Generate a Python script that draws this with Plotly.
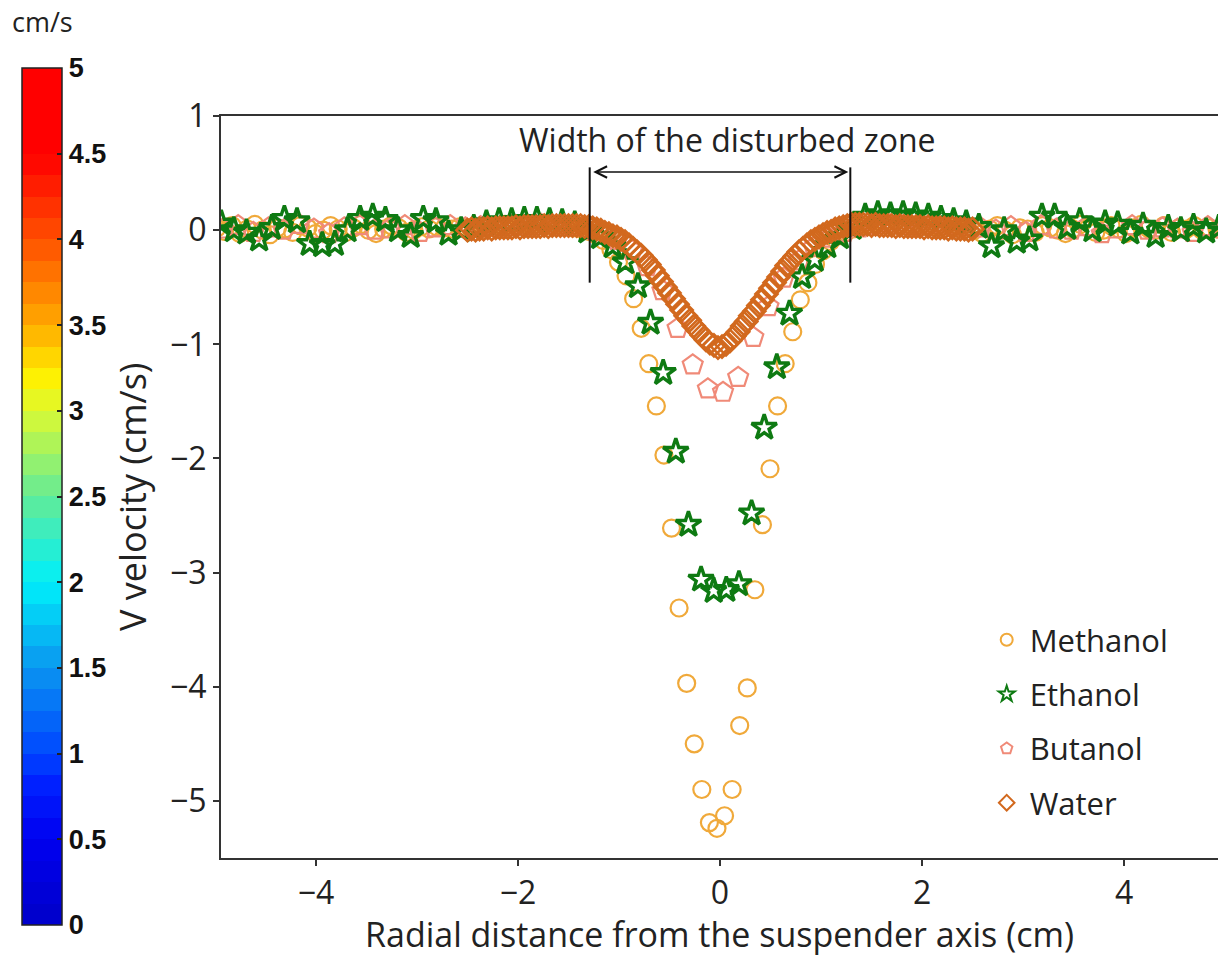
import numpy as np
import plotly.graph_objects as go

# ---------------- data: V velocity profiles (cm/s) vs radial distance (cm) ----------------
# Methanol: sampled every 0.075 cm starting at -4.98 cm
METHANOL_X0, METHANOL_DX = -4.98, 0.075
methanol_v = [
    0.02, -0.01, 0.04, -0.03, 0.01, 0.05, 0.00, -0.04, 0.02, 0.01,
    -0.02, 0.04, 0.02, -0.03, 0.00, 0.04, 0.01, -0.02, 0.02, 0.05,
    0.00, -0.03, 0.01, 0.04, 0.02, -0.02, 0.00, 0.03, 0.01, 0.03,
    0.02, 0.01, 0.03, 0.02, 0.03, 0.04, 0.03, 0.04, 0.05, 0.04,
    0.05, 0.04, 0.05, 0.05, 0.04, 0.04, 0.03, 0.02, 0.01,
    -0.01, -0.04, -0.09, -0.17, -0.28, -0.40, -0.60, -0.86, -1.17, -1.54,
    -1.97, -2.61, -3.31, -3.97, -4.50, -4.90, -5.19, -5.24, -5.13, -4.90,
    -4.34, -4.01, -3.15, -2.58, -2.09, -1.54, -1.17, -0.89, -0.61, -0.46,
    -0.30, -0.18, -0.10, -0.05, -0.02,
    0.01, 0.03, 0.04, 0.05, 0.06, 0.05, 0.06, 0.05, 0.04, 0.05,
    0.04, 0.03, 0.04, 0.02, 0.03, 0.01, 0.00, -0.03, 0.01, 0.04,
    0.00, -0.04, 0.02, 0.01, -0.02, 0.04, 0.02, 0.00, -0.03, 0.01,
    0.05, 0.02, -0.02, 0.00, 0.04, 0.01, -0.03, 0.02, 0.05, 0.01,
    0.00, 0.04, -0.02, 0.02, 0.01, 0.04, 0.00, 0.02, 0.01,
]

# Ethanol: sampled every 0.125 cm starting at -4.9375 cm
ETHANOL_X0, ETHANOL_DX = -4.9375, 0.125
ethanol_v = [
    0.06, 0.00, -0.02, -0.08, 0.02, 0.10, 0.08, -0.12, -0.13, -0.12,
    0.00, 0.10, 0.12, 0.09, 0.00, -0.05, 0.10, 0.08, -0.03, 0.00,
    0.02, 0.06, 0.08, 0.08, 0.09, 0.09, 0.08, 0.07, 0.05, -0.01,
    -0.06, -0.14, -0.28, -0.49, -0.81, -1.25, -1.94, -2.58, -3.06, -3.16,
    -3.15, -3.10, -2.48, -1.73, -1.20, -0.73, -0.41, -0.26, -0.14, -0.06,
    0.02,
    0.12, 0.14, 0.13, 0.14, 0.13, 0.12, 0.10, 0.08, 0.06, 0.03,
    -0.14, 0.00, -0.10, -0.08, 0.12, 0.12, 0.02, 0.08, 0.00, 0.06,
    0.05, -0.02, 0.04, -0.05, 0.02, 0.00, 0.03, -0.01, 0.02,
]

# Butanol: sampled every 0.15 cm starting at -4.92 cm
BUTANOL_X0, BUTANOL_DX = -4.92, 0.15
butanol_v = [
    0.01, 0.04, -0.02, 0.02, 0.00, 0.05, 0.01, -0.03, 0.02, 0.04,
    0.00, 0.01, 0.04, -0.02, 0.02, 0.04, 0.02, 0.03, 0.03, 0.04,
    0.04, 0.05, 0.04, 0.03,
    0.00, -0.04, -0.09, -0.18, -0.32, -0.53, -0.86, -1.18, -1.39, -1.42,
    -1.29, -0.94, -0.67, -0.42, -0.27, -0.15, -0.07, -0.02,
    0.02, 0.04, 0.05, 0.05, 0.04, 0.05, 0.04, 0.03, 0.02, 0.00,
    0.03, -0.02, 0.04, 0.01, 0.00, 0.03, -0.03, 0.01, 0.04, 0.00,
    0.02, 0.01, -0.02, 0.03, 0.01,
]

# Water: sampled every 0.04 cm between -2.5 and 2.5 cm
WATER_X0, WATER_DX = -2.5, 0.04
water_v = [
    0.00, 0.01, 0.00, 0.01, 0.01, 0.02, 0.01, 0.02, 0.02, 0.02,
    0.02, 0.02, 0.03, 0.02, 0.03, 0.03, 0.03, 0.03, 0.03, 0.04,
    0.03, 0.04, 0.04, 0.04, 0.04, 0.04, 0.04, 0.04, 0.04, 0.03,
    0.03, 0.02, 0.01, 0.00, -0.02, -0.03, -0.05, -0.06, -0.08, -0.10,
    -0.13, -0.16, -0.19, -0.22, -0.26, -0.30, -0.35, -0.40, -0.45, -0.50,
    -0.55, -0.60, -0.65, -0.70, -0.75, -0.79, -0.84, -0.88, -0.92, -0.96,
    -0.99, -1.01, -1.03,
    -1.02, -1.00, -0.97, -0.93, -0.89, -0.84, -0.80, -0.75, -0.71, -0.66,
    -0.61, -0.56, -0.51, -0.46, -0.41, -0.36, -0.31, -0.27, -0.23, -0.19,
    -0.16, -0.13, -0.10, -0.08, -0.06, -0.04, -0.02, -0.01, 0.01, 0.02,
    0.03, 0.04, 0.05,
    0.05, 0.05, 0.05, 0.05, 0.04, 0.05, 0.04, 0.04, 0.04, 0.04,
    0.03, 0.04, 0.03, 0.03, 0.03, 0.03, 0.03, 0.02, 0.03, 0.02,
    0.02, 0.02, 0.02, 0.01, 0.02, 0.01, 0.01, 0.01, 0.00, 0.01,
]

# Disturbed-zone marker: half width (cm) and vertical extent of the guide bars
ZONE_HALF_WIDTH = 1.29
ZONE_ARROW_HALF = 1.27
ZONE_ARROW_Y = 0.51
ZONE_BAR_TOP, ZONE_BAR_BOTTOM = 0.55, -0.46

# Colour-bar scale (cm/s)
CBAR_MIN, CBAR_MAX = 0, 5
cbar_ticks = [0, 0.5, 1, 1.5, 2, 2.5, 3, 3.5, 4, 4.5, 5]
cbar_ticktext = ["0", "0.5", "1", "1.5", "2", "2.5", "3", "3.5", "4", "4.5", "5"]

x_ticks = [-4, -2, 0, 2, 4]
y_ticks = [1, 0, -1, -2, -3, -4, -5]

# figure / plot-area geometry in pixels
W, H = 1218, 957
PLOT_L, PLOT_R, PLOT_T, PLOT_B = 221, 1218, 116, 858


def grid(x0, dx, values):
    return np.round(x0 + dx * np.arange(len(values)), 4)


def px_to_paper_x(px):
    return (px - PLOT_L) / (PLOT_R - PLOT_L)


def px_to_paper_y(py):
    return (PLOT_B - py) / (PLOT_B - PLOT_T)


# stepped "jet"-like colour scale for the velocity bar
jet_anchors = [
    (0.00, (0, 0, 200)), (0.10, (0, 0, 240)), (0.16, (0, 30, 255)),
    (0.20, (0, 70, 255)), (0.30, (10, 150, 240)), (0.40, (0, 240, 250)),
    (0.50, (100, 235, 150)), (0.60, (220, 250, 50)), (0.64, (255, 240, 0)),
    (0.70, (255, 170, 0)), (0.80, (255, 80, 0)), (0.88, (255, 15, 0)),
    (0.90, (255, 0, 0)), (1.00, (255, 0, 0)),
]


def jet_at(t):
    for (t0, c0), (t1, c1) in zip(jet_anchors[:-1], jet_anchors[1:]):
        if t0 <= t <= t1:
            f = 0 if t1 == t0 else (t - t0) / (t1 - t0)
            return tuple(int(round(a + (b - a) * f)) for a, b in zip(c0, c1))
    return jet_anchors[-1][1]


N_BANDS = 40
stepped_scale = []
for k in range(N_BANDS):
    r, g, b = jet_at((k + 0.5) / N_BANDS)
    col = f"rgb({r},{g},{b})"
    stepped_scale.append([k / N_BANDS, col])
    stepped_scale.append([(k + 1) / N_BANDS, col])

FONT = "Open Sans"
INK = "#222222"

fig = go.Figure()

fig.add_trace(go.Scatter(
    x=grid(METHANOL_X0, METHANOL_DX, methanol_v), y=methanol_v,
    mode="markers", name="Methanol", legendrank=1, legendgroup="m",
    marker=dict(symbol="circle-open", size=17, color="#F0A93A",
                line=dict(width=2.2, color="#F0A93A")),
))
fig.add_trace(go.Scatter(
    x=grid(BUTANOL_X0, BUTANOL_DX, butanol_v), y=butanol_v,
    mode="markers", name="Butanol", legendrank=3, legendgroup="b",
    marker=dict(symbol="pentagon-open", size=21, color="#F08A78",
                line=dict(width=2.2, color="#F08A78")),
))
fig.add_trace(go.Scatter(
    x=grid(ETHANOL_X0, ETHANOL_DX, ethanol_v), y=ethanol_v,
    mode="markers", name="Ethanol", legendrank=2, legendgroup="e",
    marker=dict(symbol="star-open", size=19, color="#0E7A12",
                line=dict(width=3.4, color="#0E7A12")),
))
fig.add_trace(go.Scatter(
    x=grid(WATER_X0, WATER_DX, water_v), y=water_v,
    mode="markers", name="Water", legendrank=4, legendgroup="w",
    marker=dict(symbol="diamond-open", size=17, color="#D2691E",
                line=dict(width=2.6, color="#D2691E")),
))

# host trace for the velocity colour bar
fig.add_trace(go.Scatter(
    x=[None, None], y=[None, None], mode="markers", showlegend=False,
    hoverinfo="skip",
    marker=dict(
        color=[CBAR_MIN, CBAR_MAX], cmin=CBAR_MIN, cmax=CBAR_MAX,
        colorscale=stepped_scale, showscale=True,
        colorbar=dict(
            xref="paper", yref="paper",
            x=px_to_paper_x(22), xanchor="left",
            y=px_to_paper_y(68), yanchor="top",
            len=857, lenmode="pixels",
            thickness=40, thicknessmode="pixels",
            xpad=0, ypad=0,
            outlinecolor="#222", outlinewidth=1.5,
            tickmode="array", tickvals=cbar_ticks, ticktext=cbar_ticktext,
            ticks="inside", ticklen=5, tickcolor="#222", tickwidth=1.5,
            tickfont=dict(family="Liberation Sans Narrow, Liberation Sans, Arial",
                          size=27, color="#111", weight="bold"),
        ),
    ),
))

# disturbed-zone guide bars
for sx in (-ZONE_HALF_WIDTH, ZONE_HALF_WIDTH):
    fig.add_shape(type="line", xref="x", yref="y",
                  x0=sx, x1=sx, y0=ZONE_BAR_BOTTOM, y1=ZONE_BAR_TOP,
                  line=dict(color="#111", width=2))

# double-headed arrow across the disturbed zone
fig.add_annotation(
    x=ZONE_ARROW_HALF, y=ZONE_ARROW_Y, ax=-ZONE_ARROW_HALF, ay=ZONE_ARROW_Y,
    xref="x", yref="y", axref="x", ayref="y", text="",
    showarrow=True, arrowside="end+start", arrowhead=5,
    arrowsize=1.4, arrowwidth=1.6, arrowcolor="#111", standoff=0, startstandoff=0,
)
fig.add_annotation(
    x=0.07, y=0.79, xref="x", yref="y", text="Width of the disturbed zone",
    showarrow=False, font=dict(family=FONT, size=32, color=INK),
    xanchor="center", yanchor="middle",
)
# colour-bar unit label
fig.add_annotation(
    x=px_to_paper_x(42), y=px_to_paper_y(22), xref="paper", yref="paper",
    text="cm/s", showarrow=False, font=dict(family=FONT, size=27, color=INK),
    xanchor="center", yanchor="middle",
)
# y-axis title
fig.add_annotation(
    x=px_to_paper_x(132), y=px_to_paper_y(497), xref="paper", yref="paper",
    text="V velocity (cm/s)", textangle=-90, showarrow=False,
    font=dict(family=FONT, size=36, color=INK),
    xanchor="center", yanchor="middle",
)

fig.update_layout(
    width=W, height=H, autosize=False,
    margin=dict(l=PLOT_L, r=W - PLOT_R, t=PLOT_T, b=H - PLOT_B),
    paper_bgcolor="white", plot_bgcolor="white",
    font=dict(family=FONT, color=INK),
    showlegend=True,
    legend=dict(
        x=0.765, y=0.33, xanchor="left", yanchor="top",
        bgcolor="rgba(0,0,0,0)", borderwidth=0,
        font=dict(family=FONT, size=31, color=INK),
        itemsizing="constant", tracegroupgap=11, itemwidth=36,
    ),
    xaxis=dict(
        range=[-4.94, 4.93], tickmode="array", tickvals=x_ticks,
        showgrid=False, zeroline=False,
        showline=True, linecolor="#333", linewidth=2, mirror=True,
        ticks="outside", ticklen=6, tickwidth=1.5, tickcolor="#333",
        tickfont=dict(family=FONT, size=32, color=INK),
        title=dict(text="Radial distance from the suspender axis (cm)",
                   font=dict(family=FONT, size=34, color=INK), standoff=4),
    ),
    yaxis=dict(
        range=[-5.5, 1.0], tickmode="array", tickvals=y_ticks,
        showgrid=False, zeroline=False,
        showline=True, linecolor="#333", linewidth=2,
        ticks="outside", ticklen=6, tickwidth=1.5, tickcolor="#333",
        tickfont=dict(family=FONT, size=32, color=INK),
    ),
)

fig.write_html("out.html")
